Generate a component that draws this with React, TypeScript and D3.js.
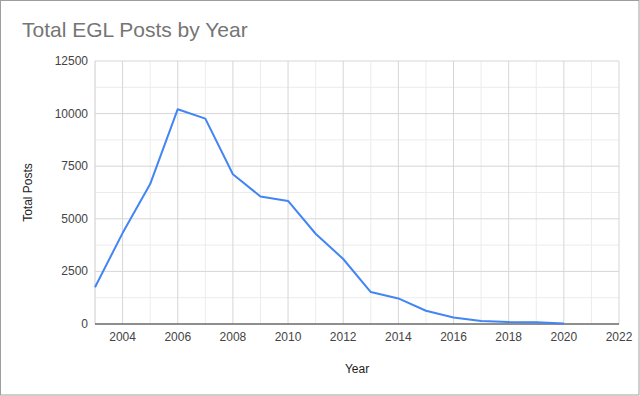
import React from "react";
import * as d3 from "d3";

const years = [2003, 2004, 2005, 2006, 2007, 2008, 2009, 2010, 2011, 2012, 2013, 2014, 2015, 2016, 2017, 2018, 2019, 2020];
const posts = [1750, 4320, 6650, 10210, 9760, 7120, 6060, 5850, 4290, 3090, 1520, 1215, 630, 310, 140, 95, 85, 20];
const yTicks = [0, 2500, 5000, 7500, 10000, 12500];
const xTicks = [2004, 2006, 2008, 2010, 2012, 2014, 2016, 2018, 2020, 2022];

const W = 640, H = 396;
const left = 95, right = 619, top = 61, bottom = 324;
const font = "'Liberation Sans', Arial, sans-serif";

export default function App() {
  const x = d3.scaleLinear().domain([2003, 2022]).range([left, right]);
  const y = d3.scaleLinear().domain([0, 12500]).range([bottom, top]);
  const line = d3.line<number>().x((_, i) => x(years[i])).y((d) => y(d));
  const minorY = d3.range(0, 12500 + 1, 1250);
  const minorX = d3.range(2003, 2023, 1);
  return (
    <svg width={W} height={H} style={{ position: "absolute", left: 0, top: 0 }} fontFamily={font}>
      <rect x={0.5} y={0.5} width={W - 1.5} height={H - 1.5} fill="#fff" stroke="#9e9e9e" />
      <text x={22} y={37} fontSize={21} fill="#757575">Total EGL Posts by Year</text>
      {minorX.filter((v) => v % 2 === 1).map((v) => (
        <line key={"mx" + v} x1={x(v)} x2={x(v)} y1={top} y2={bottom} stroke="#ececec" />
      ))}
      {minorY.filter((v) => v % 2500 !== 0).map((v) => (
        <line key={"my" + v} x1={left} x2={right} y1={y(v)} y2={y(v)} stroke="#ececec" />
      ))}
      {xTicks.map((v) => (
        <line key={"gx" + v} x1={x(v)} x2={x(v)} y1={top} y2={bottom} stroke="#d6d6d6" />
      ))}
      {yTicks.map((v) => (
        <line key={"gy" + v} x1={left} x2={right} y1={y(v)} y2={y(v)} stroke="#d6d6d6" />
      ))}
      <line x1={left} x2={left} y1={top} y2={bottom} stroke="#d6d6d6" />
      <line x1={left} x2={right} y1={bottom} y2={bottom} stroke="#333" />
      {yTicks.map((v) => (
        <text key={"ty" + v} x={88} y={y(v) + 4} fontSize={12} fill="#444" textAnchor="end">{v}</text>
      ))}
      {xTicks.map((v) => (
        <text key={"tx" + v} x={x(v)} y={341} fontSize={12} fill="#444" textAnchor="middle">{v}</text>
      ))}
      <path d={line(posts) || ""} fill="none" stroke="#4285f4" strokeWidth={2} strokeLinejoin="round" />
      <text x={(left + right) / 2} y={373} fontSize={12} fill="#222" textAnchor="middle">Year</text>
      <text transform={`translate(32, ${(top + bottom) / 2}) rotate(-90)`} fontSize={12} fill="#222" textAnchor="middle">Total Posts</text>
    </svg>
  );
}
